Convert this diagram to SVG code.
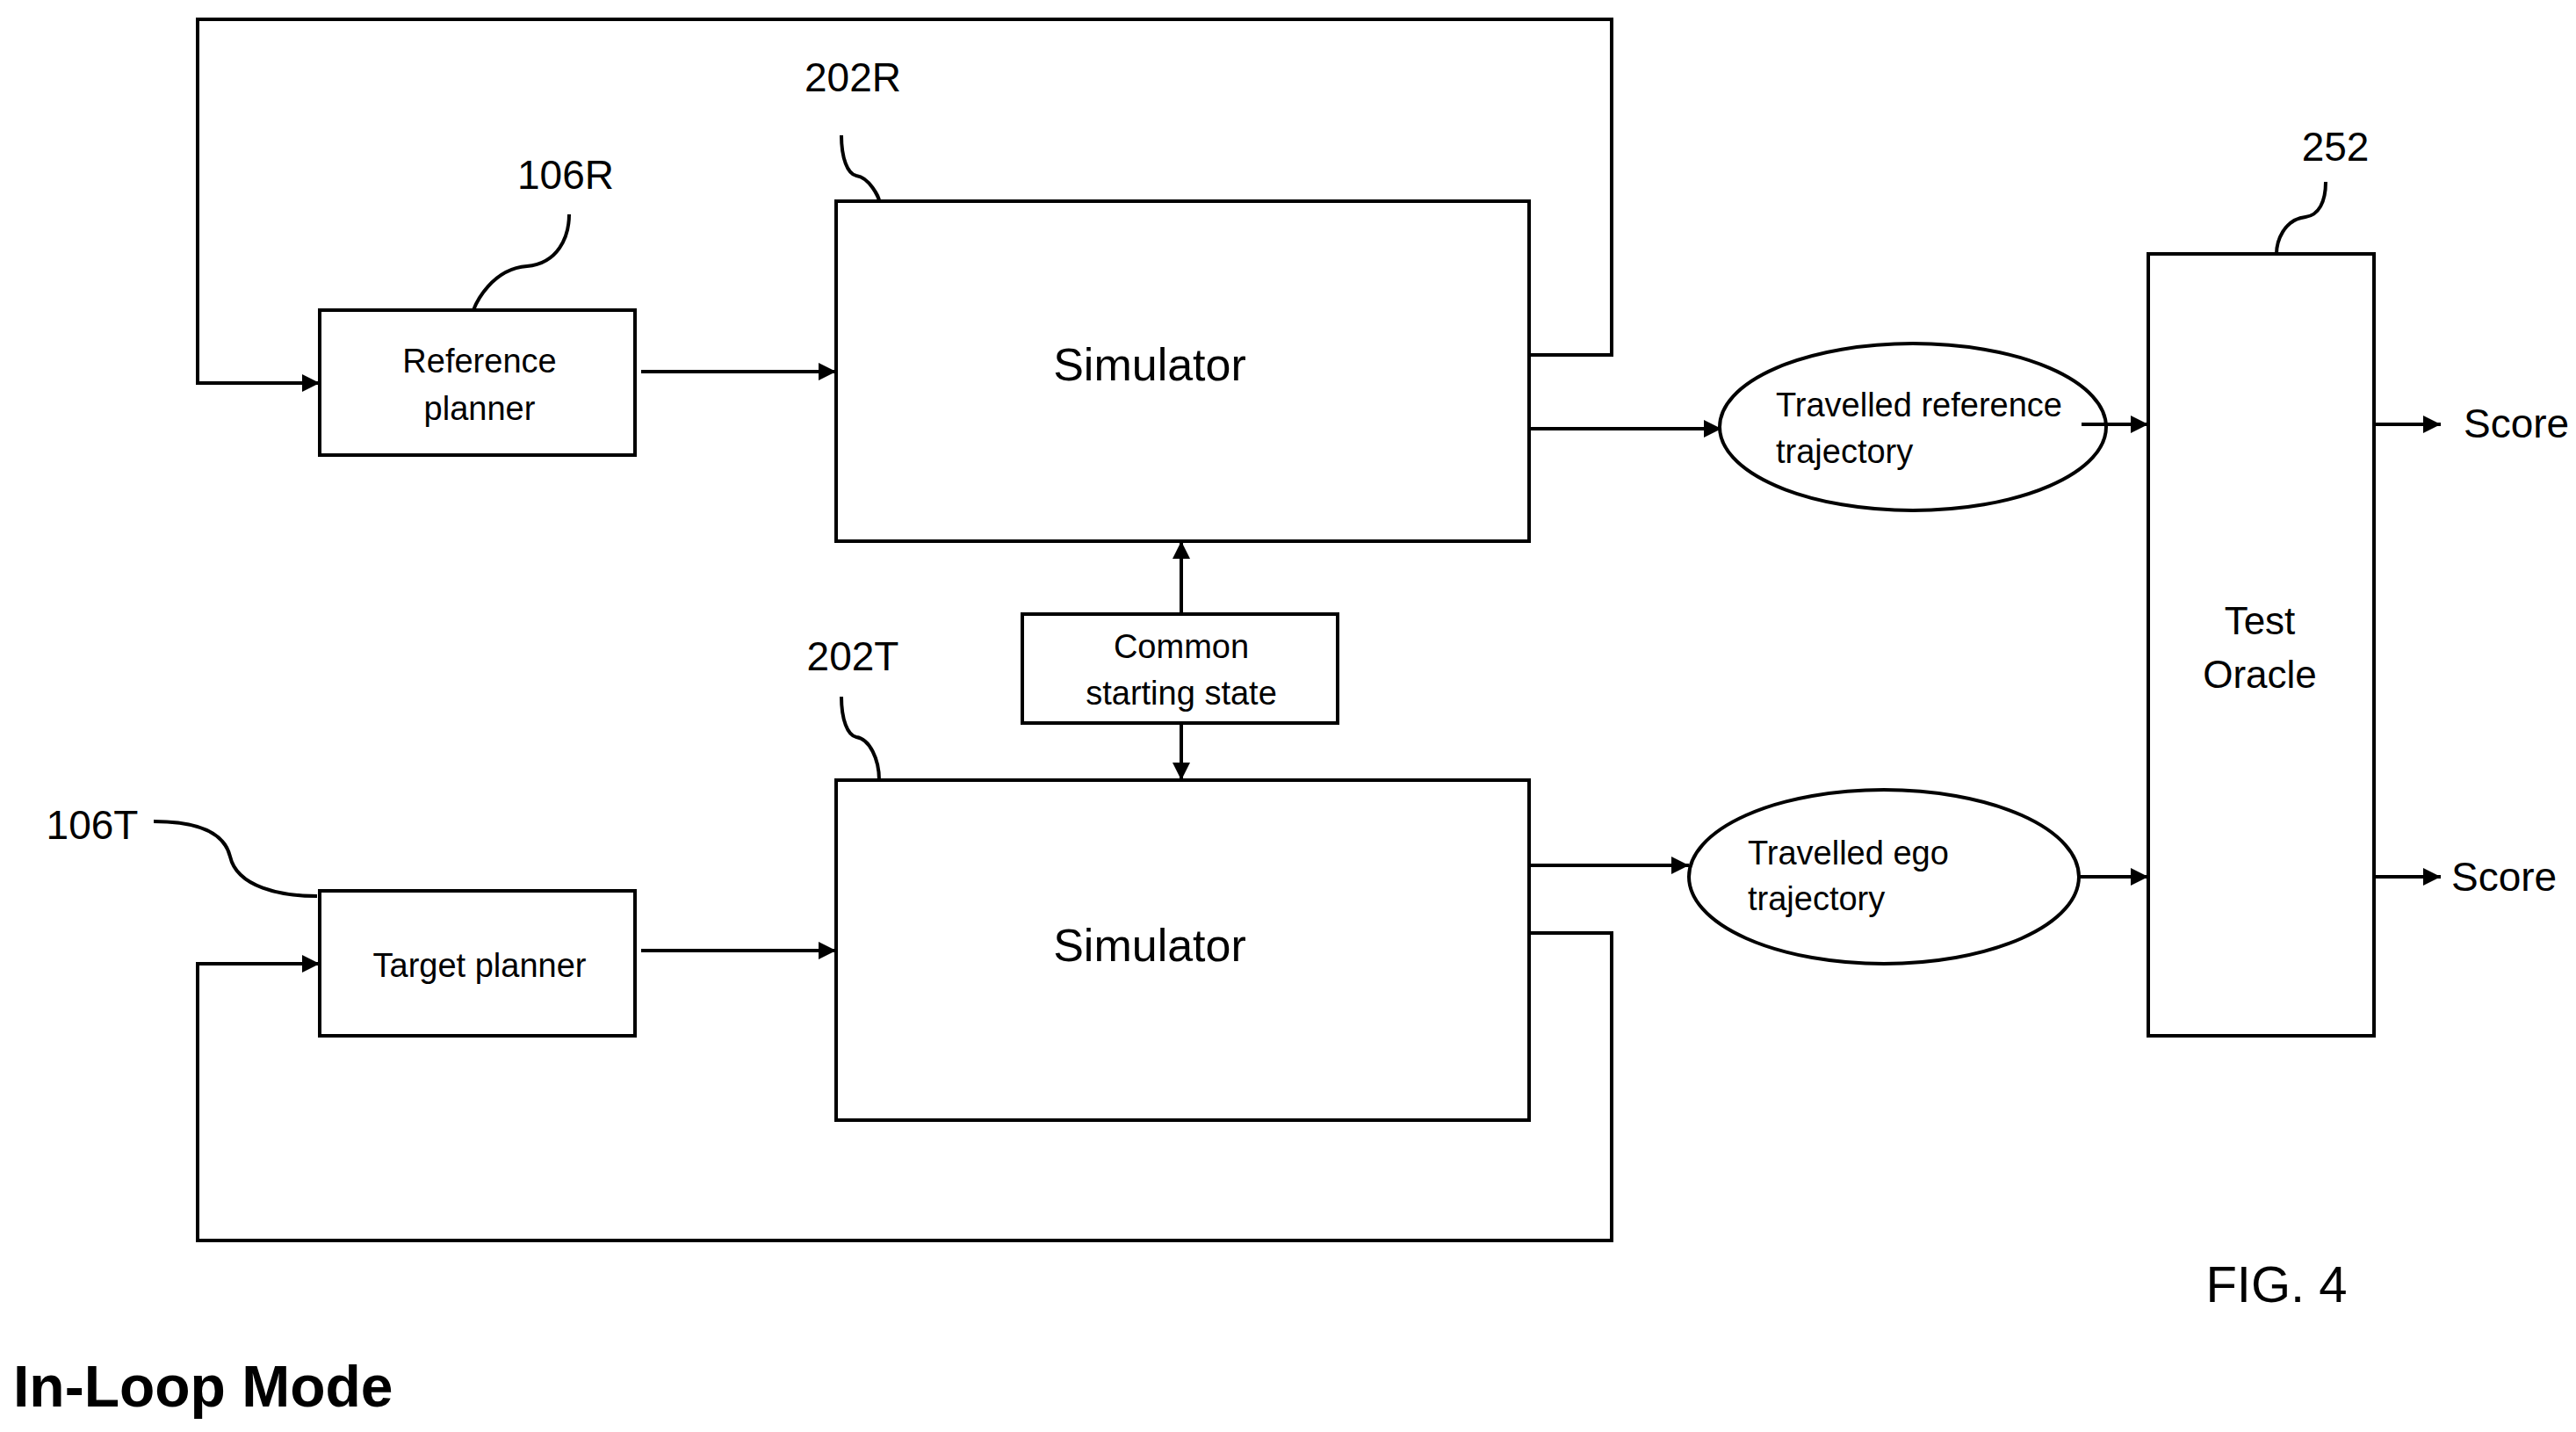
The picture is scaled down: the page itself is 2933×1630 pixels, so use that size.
<svg xmlns="http://www.w3.org/2000/svg" width="2933" height="1630" viewBox="0 0 2933 1630">
<style>
.b{fill:#fff;stroke:#000;stroke-width:4}
.l{fill:none;stroke:#000;stroke-width:4}
.a{fill:none;stroke:#000;stroke-width:4;marker-end:url(#ar)}
.t{font-family:"Liberation Sans",Arial,sans-serif;fill:#000}
.c{text-anchor:middle}
</style>
<defs>
<marker id="ar" viewBox="0 0 10 10" refX="10" refY="5" markerWidth="5" markerHeight="5" orient="auto" markerUnits="strokeWidth"><path d="M0,0L10,5L0,10z" fill="#000"/></marker>
</defs>
<rect width="2933" height="1630" fill="#fff"/>
<g id="refplanner"><rect class="b" x="364" y="353" width="359" height="165"/>
<text class="t c" x="546" y="424" font-size="38">Reference</text><text class="t c" x="546" y="478" font-size="38">planner</text></g>
<g id="targetplanner"><rect class="b" x="364" y="1014" width="359" height="165"/>
<text class="t c" x="546" y="1112" font-size="38">Target planner</text></g>
<g id="simR"><rect class="b" x="952" y="229" width="789" height="387"/>
<text class="t c" x="1309" y="433" font-size="52">Simulator</text></g>
<g id="simT"><rect class="b" x="952" y="888" width="789" height="387"/>
<text class="t c" x="1309" y="1094" font-size="52">Simulator</text></g>
<g id="common"><rect class="b" x="1164" y="699" width="359" height="124"/>
<text class="t c" x="1345" y="749" font-size="38">Common</text><text class="t c" x="1345" y="802" font-size="38">starting state</text></g>
<g id="trajR"><ellipse class="b" cx="2178" cy="486" rx="220" ry="95"/>
<text class="t" x="2022" y="474" font-size="38">Travelled reference</text><text class="t" x="2022" y="527" font-size="38">trajectory</text></g>
<g id="trajT"><ellipse class="b" cx="2145" cy="998" rx="222" ry="99"/>
<text class="t" x="1990" y="984" font-size="38">Travelled ego</text><text class="t" x="1990" y="1036" font-size="38">trajectory</text></g>
<g id="oracle"><rect class="b" x="2446" y="289" width="257" height="890"/>
<text class="t c" x="2573" y="722" font-size="44">Test</text><text class="t c" x="2573" y="783" font-size="44">Oracle</text></g>
<g id="connectors">
<path class="a" d="M1741,404H1835V22H225V436H364"/>
<path class="a" d="M1741,1062H1835V1412H225V1097H364"/>
<path class="a" d="M730,423H952"/>
<path class="a" d="M730,1082H952"/>
<path class="a" d="M1741,488H1960"/>
<path class="a" d="M1741,985H1923"/>
<path class="a" d="M2370,483H2446"/>
<path class="a" d="M2367,998H2446"/>
<path class="a" d="M2703,483H2779"/>
<path class="a" d="M2703,998H2779"/>
<path class="a" d="M1345,699V616"/>
<path class="a" d="M1345,823V888"/>
<path class="l" d="M958,154C958,180 965,198 975,200C990,202 1001,225 1001,229"/>
<path class="l" d="M648,244C648,270 635,300 600,303C560,306 542,345 539,353"/>
<path class="l" d="M958,793C958,819 965,837 975,839C990,841 1001,864 1001,888"/>
<path class="l" d="M175,935C220,935 255,945 262,975C270,1010 320,1020 361,1020"/>
<path class="l" d="M2648,207C2648,230 2640,245 2625,247C2600,250 2592,275 2592,289"/>
</g>
<g id="labels">
<text class="t" x="2805" y="498" font-size="46">Score</text>
<text class="t" x="2791" y="1014" font-size="46">Score</text>
<text class="t c" x="971" y="104" font-size="46">202R</text>
<text class="t c" x="644" y="215" font-size="46">106R</text>
<text class="t c" x="971" y="763" font-size="46">202T</text>
<text class="t c" x="105" y="955" font-size="46">106T</text>
<text class="t c" x="2659" y="183" font-size="46">252</text>
<text class="t c" x="2592" y="1482" font-size="58">FIG. 4</text>
<text class="t" x="15" y="1601" font-size="66" font-weight="bold">In-Loop Mode</text>
</g>
</svg>
